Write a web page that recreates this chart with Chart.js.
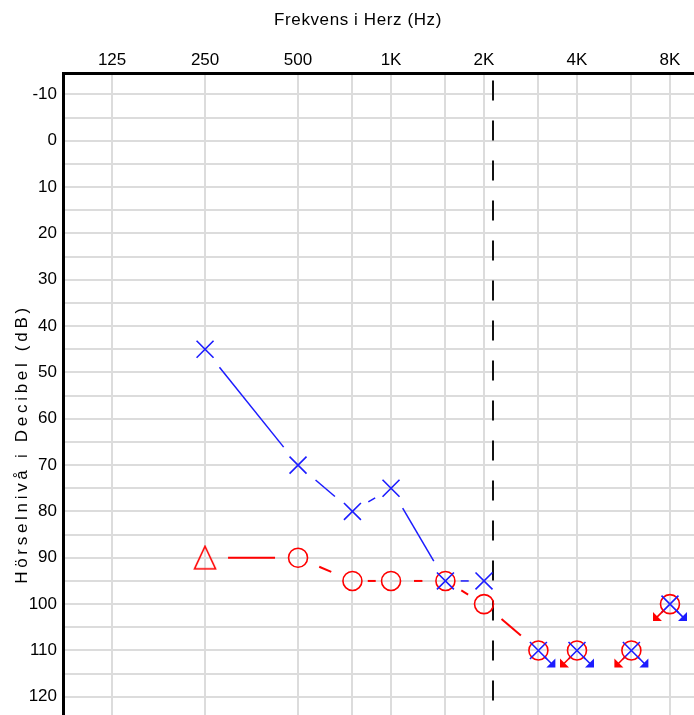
<!DOCTYPE html>
<html>
<head>
<meta charset="utf-8">
<script src="https://cdn.jsdelivr.net/npm/chart.js@4/dist/chart.umd.min.js"></script>
<style>
  html, body { margin: 0; padding: 0; background: #fff; overflow: hidden; }
  #audiogram { display: block; }
</style>
</head>
<body>
<canvas id="audiogram" width="716" height="808"></canvas>
<script>
// test frequencies (Hz) and thresholds (dB HL)
const frequencies = [250, 500, 750, 1000, 1500, 2000, 3000, 4000, 6000, 8000];
const leftEar = [45, 70, 80, 75, 95, 95, 110, 110, 110, 100];
const leftNoResponse = [false, false, false, false, false, false, true, true, true, true];
const rightEar = [90, 90, 95, 95, 95, 100, 110, 110, 110, 100];
const rightNoResponse = [false, false, false, false, false, false, false, true, true, true];
const rightMasked = [true, false, false, false, false, false, false, false, false, false];

// axis ticks
const gridFrequencies = [125, 250, 500, 750, 1000, 1500, 2000, 3000, 4000, 6000, 8000];
const frequencyLabels = { 125: '125', 250: '250', 500: '500', 1000: '1K', 2000: '2K', 4000: '4K', 8000: '8K' };
const dbGrid = [-10, -5, 0, 5, 10, 15, 20, 25, 30, 35, 40, 45, 50, 55, 60, 65, 70, 75, 80, 85, 90, 95, 100, 105, 110, 115, 120, 125, 130, 135, 140];
const cutoffFrequency = 2140;

const xTitle = 'Frekvens i Herz (Hz)';
const yTitle = 'Hörselnivå i Decibel (dB)';

const BLUE = '#1c1cff';
const RED = '#ff0000';
const FONT = { family: '"Liberation Sans", Arial, sans-serif', size: 17 };

function makeTriangle(color) {
    const c = document.createElement('canvas');
    c.width = 24;
    c.height = 26;
    const g = c.getContext('2d');
    g.strokeStyle = color;
    g.lineWidth = 1.6;
    g.beginPath();
    g.moveTo(12, 1.5);
    g.lineTo(22.5, 24);
    g.lineTo(1.5, 24);
    g.closePath();
    g.stroke();
    return c;
}
const triangle = makeTriangle(RED);

function points(values) {
    return frequencies.map((f, i) => ({ x: f, y: values[i] }));
}

// connecting lines stop short of each symbol, and skip no-response points
const linkLines = {
    id: 'linkLines',
    beforeDatasetsDraw(chart) {
        const { ctx, scales: { x, y } } = chart;

        // vertical dashed marker
        ctx.save();
        ctx.strokeStyle = '#111';
        ctx.lineWidth = 2;
        ctx.setLineDash([20, 20]);
        const mx = Math.round(x.getPixelForValue(cutoffFrequency));
        ctx.beginPath();
        ctx.moveTo(mx, chart.chartArea.top + 7);
        ctx.lineTo(mx, chart.chartArea.bottom);
        ctx.stroke();
        ctx.restore();

        chart.data.datasets.forEach(ds => {
            ctx.save();
            ctx.strokeStyle = ds.borderColor;
            ctx.lineWidth = ds.linkWidth;
            for (let i = 0; i < ds.data.length - 1; i++) {
                if (ds.noResponse[i] || ds.noResponse[i + 1]) continue;
                const x1 = x.getPixelForValue(ds.data[i].x), y1 = y.getPixelForValue(ds.data[i].y);
                const x2 = x.getPixelForValue(ds.data[i + 1].x), y2 = y.getPixelForValue(ds.data[i + 1].y);
                const len = Math.hypot(x2 - x1, y2 - y1);
                const gap = Math.max(Math.min(23, (len - 8) / 2), 0);
                if (len - 2 * gap < 1) continue;
                const ux = (x2 - x1) / len, uy = (y2 - y1) / len;
                ctx.beginPath();
                ctx.moveTo(x1 + ux * gap, y1 + uy * gap);
                ctx.lineTo(x2 - ux * gap, y2 - uy * gap);
                ctx.stroke();
            }
            ctx.restore();
        });
    },
    afterDatasetsDraw(chart) {
        const { ctx, scales: { x, y } } = chart;
        chart.data.datasets.forEach(ds => {
            const dir = ds.arrowDir;
            ctx.save();
            ctx.strokeStyle = ds.borderColor;
            ctx.fillStyle = ds.borderColor;
            ctx.lineWidth = 1.6;
            ds.data.forEach((p, i) => {
                if (!ds.noResponse[i]) return;
                const cx = x.getPixelForValue(p.x), cy = y.getPixelForValue(p.y);
                const tx = cx + 16 * dir, ty = cy + 16;
                ctx.beginPath();
                ctx.moveTo(cx + 6 * dir, cy + 6);
                ctx.lineTo(tx - 2 * dir, ty - 2);
                ctx.stroke();
                ctx.beginPath();
                ctx.moveTo(tx + dir, ty + 1);
                ctx.lineTo(tx - 8 * dir, ty + 1);
                ctx.lineTo(tx + dir, ty - 8);
                ctx.closePath();
                ctx.fill();
            });
            ctx.restore();
        });
    },
    afterDraw(chart) {
        // axis titles, drawn by hand for the wider letter spacing
        const { ctx } = chart;
        ctx.save();
        ctx.fillStyle = '#000';
        ctx.font = `${FONT.size}px ${FONT.family}`;
        ctx.textAlign = 'center';
        ctx.textBaseline = 'middle';
        ctx.letterSpacing = '0.6px';
        ctx.fillText(xTitle, 358, 20);
        ctx.translate(22, 444);
        ctx.rotate(-Math.PI / 2);
        ctx.letterSpacing = '3.7px';
        ctx.fillText(yTitle, 0, 0);
        ctx.restore();
    }
};

new Chart(document.getElementById('audiogram'), {
    type: 'scatter',
    data: {
        datasets: [
            {
                label: 'Vänster',
                data: points(leftEar),
                noResponse: leftNoResponse,
                arrowDir: 1,
                linkWidth: 1.5,
                borderColor: BLUE,
                borderWidth: 1.6,
                pointStyle: 'crossRot',
                pointRadius: 12,
                showLine: false
            },
            {
                label: 'Höger',
                data: points(rightEar),
                noResponse: rightNoResponse,
                arrowDir: -1,
                linkWidth: 2,
                borderColor: RED,
                backgroundColor: 'transparent',
                borderWidth: 1.6,
                pointStyle: rightMasked.map(m => m ? triangle : 'circle'),
                pointRadius: 9.5,
                showLine: false
            }
        ]
    },
    options: {
        responsive: false,
        animation: false,
        layout: { padding: 0, autoPadding: false },
        plugins: {
            legend: { display: false },
            tooltip: { enabled: false }
        },
        scales: {
            x: {
                type: 'logarithmic',
                position: 'top',
                min: 86.7,
                max: 11275,
                afterBuildTicks: s => { s.ticks = gridFrequencies.map(v => ({ value: v })); },
                afterFit: s => { s.height = 73.5; },
                ticks: {
                    autoSkip: false,
                    maxRotation: 0,
                    padding: 3,
                    color: '#000',
                    font: FONT,
                    callback: v => frequencyLabels[v] || ''
                },
                grid: { color: '#dcdcdc', lineWidth: 2, drawTicks: false },
                border: { color: '#000', width: 3 }
            },
            y: {
                reverse: true,
                min: -14.5,
                max: 140.5,
                afterBuildTicks: s => { s.ticks = dbGrid.map(v => ({ value: v })); },
                afterFit: s => { s.width = 63; },
                ticks: {
                    autoSkip: false,
                    padding: 6,
                    color: '#000',
                    font: FONT,
                    callback: v => (v % 10 === 0 ? v : '')
                },
                grid: { color: '#dcdcdc', lineWidth: 2, drawTicks: false },
                border: { color: '#000', width: 3 }
            }
        }
    },
    plugins: [linkLines]
});
</script>
</body>
</html>
